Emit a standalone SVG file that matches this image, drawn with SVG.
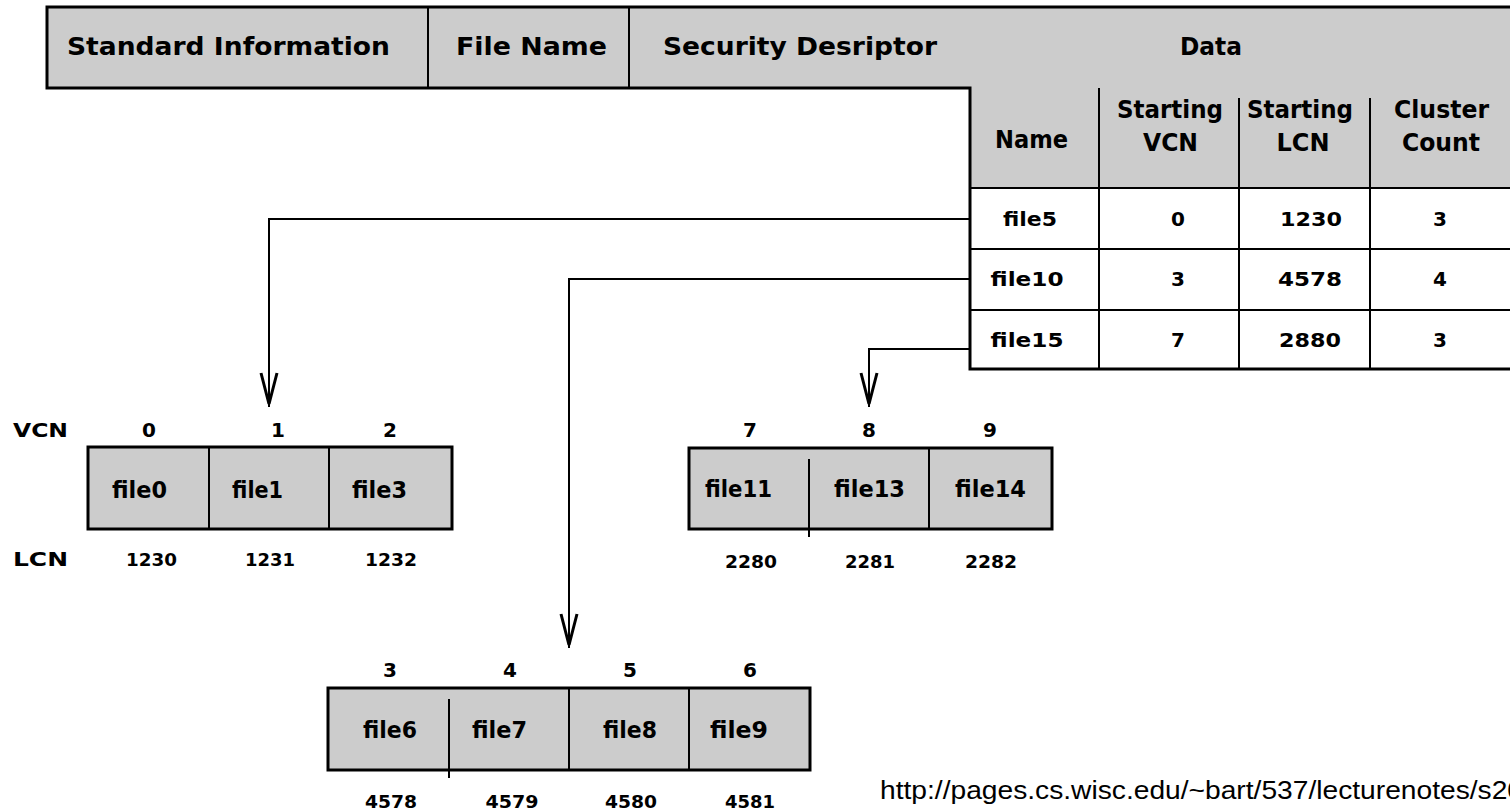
<svg xmlns="http://www.w3.org/2000/svg" width="1510" height="811" viewBox="0 0 1510 811">
<style>
.b{font-family:"DejaVu Sans","Liberation Sans",sans-serif;font-weight:bold;fill:#000;text-anchor:middle}
.h{font-size:25px}
.th{font-size:24px}
.t{font-size:20px}
.c{font-size:23px}
.n{font-size:20px}
.s{font-size:18px}
.thick{stroke:#000;stroke-width:3;fill:none}
.thin{stroke:#000;stroke-width:2;fill:none}
.grey{fill:#cccccc}
.conn{stroke:#000;stroke-width:2;fill:none;marker-end:url(#v)}
.url{font-family:"Liberation Sans",Arial,sans-serif;font-size:26px;fill:#000}
</style>
<defs>
<marker id="v" markerUnits="userSpaceOnUse" viewBox="-40 -14 46 28" markerWidth="46" markerHeight="28" refX="0" refY="0" orient="auto" overflow="visible">
<path d="M-34,-8 L-3,0 L-34,8" fill="none" stroke="#000" stroke-width="3"/>
</marker>
</defs>
<rect width="1510" height="811" fill="#fff"/>

<g id="mft-record">
<polygon class="grey" points="47,7 1512,7 1512,188 970,188 970,88 47,88"/>
<rect x="970" y="188" width="542" height="181" fill="#fff"/>
<path class="thick" d="M1512,7 H47 V88 H970 V369 H1512"/>
<line class="thin" x1="428" y1="7" x2="428" y2="88"/>
<line class="thin" x1="629" y1="7" x2="629" y2="88"/>
<text class="b h" x="228.5" y="55" textLength="323" lengthAdjust="spacingAndGlyphs">Standard Information</text>
<text class="b h" x="531.5" y="55" textLength="151" lengthAdjust="spacingAndGlyphs">File Name</text>
<text class="b h" x="800" y="55" textLength="274" lengthAdjust="spacingAndGlyphs">Security Desriptor</text>
<text class="b h" x="1211" y="55" textLength="62" lengthAdjust="spacingAndGlyphs">Data</text>
</g>

<g id="data-runs-table">
<line class="thin" x1="970" y1="188" x2="1512" y2="188"/>
<line class="thin" x1="970" y1="249" x2="1512" y2="249"/>
<line class="thin" x1="970" y1="310" x2="1512" y2="310"/>
<line class="thin" x1="1099" y1="88" x2="1099" y2="369"/>
<line class="thin" x1="1239" y1="98" x2="1239" y2="369"/>
<line class="thin" x1="1370" y1="98" x2="1370" y2="369"/>
<text class="b th" x="1031.5" y="148" textLength="73" lengthAdjust="spacingAndGlyphs">Name</text>
<text class="b th" x="1170" y="118" textLength="106" lengthAdjust="spacingAndGlyphs">Starting</text>
<text class="b th" x="1170.5" y="151" textLength="55" lengthAdjust="spacingAndGlyphs">VCN</text>
<text class="b th" x="1300" y="118" textLength="106" lengthAdjust="spacingAndGlyphs">Starting</text>
<text class="b th" x="1303" y="151">LCN</text>
<text class="b th" x="1441.5" y="118" textLength="95" lengthAdjust="spacingAndGlyphs">Cluster</text>
<text class="b th" x="1441" y="151" textLength="78" lengthAdjust="spacingAndGlyphs">Count</text>
<text class="b t" x="1030" y="226" textLength="54" lengthAdjust="spacingAndGlyphs">file5</text>
<text class="b t" x="1178" y="226">0</text>
<text class="b t" x="1311" y="226" textLength="62" lengthAdjust="spacingAndGlyphs">1230</text>
<text class="b t" x="1440" y="226">3</text>
<text class="b t" x="1027" y="286" textLength="73" lengthAdjust="spacingAndGlyphs">file10</text>
<text class="b t" x="1178" y="286">3</text>
<text class="b t" x="1310" y="286" textLength="64" lengthAdjust="spacingAndGlyphs">4578</text>
<text class="b t" x="1440" y="286">4</text>
<text class="b t" x="1027" y="347" textLength="73" lengthAdjust="spacingAndGlyphs">file15</text>
<text class="b t" x="1178" y="347">7</text>
<text class="b t" x="1310" y="347" textLength="62" lengthAdjust="spacingAndGlyphs">2880</text>
<text class="b t" x="1440" y="347">3</text>
</g>

<g id="axis-labels">
<text class="b n" x="40.5" y="437" textLength="55" lengthAdjust="spacingAndGlyphs">VCN</text>
<text class="b n" x="40.5" y="566" textLength="55" lengthAdjust="spacingAndGlyphs">LCN</text>
</g>

<g id="run-0-2">
<rect class="grey" x="88" y="447" width="364" height="82"/>
<rect class="thick" x="88" y="447" width="364" height="82"/>
<line class="thin" x1="209" y1="447" x2="209" y2="529"/>
<line class="thin" x1="329" y1="447" x2="329" y2="529"/>
<text class="b n" x="149" y="437">0</text>
<text class="b n" x="278" y="437">1</text>
<text class="b n" x="390" y="437">2</text>
<text class="b c" x="139.5" y="498" textLength="55" lengthAdjust="spacingAndGlyphs">file0</text>
<text class="b c" x="257.5" y="498" textLength="51" lengthAdjust="spacingAndGlyphs">file1</text>
<text class="b c" x="379.5" y="498" textLength="55" lengthAdjust="spacingAndGlyphs">file3</text>
<text class="b s" x="151.5" y="566" textLength="51" lengthAdjust="spacingAndGlyphs">1230</text>
<text class="b s" x="270" y="566" textLength="50" lengthAdjust="spacingAndGlyphs">1231</text>
<text class="b s" x="391" y="566" textLength="52" lengthAdjust="spacingAndGlyphs">1232</text>
</g>

<g id="run-7-9">
<rect class="grey" x="689" y="448" width="363" height="81"/>
<rect class="thick" x="689" y="448" width="363" height="81"/>
<line class="thin" x1="809" y1="459" x2="809" y2="537"/>
<line class="thin" x1="929" y1="448" x2="929" y2="529"/>
<text class="b n" x="750" y="437">7</text>
<text class="b n" x="869" y="437">8</text>
<text class="b n" x="990" y="437">9</text>
<text class="b c" x="738.5" y="497" textLength="67" lengthAdjust="spacingAndGlyphs">file11</text>
<text class="b c" x="869.5" y="497" textLength="71" lengthAdjust="spacingAndGlyphs">file13</text>
<text class="b c" x="990.5" y="497" textLength="71" lengthAdjust="spacingAndGlyphs">file14</text>
<text class="b s" x="751" y="568" textLength="52" lengthAdjust="spacingAndGlyphs">2280</text>
<text class="b s" x="870" y="568" textLength="50" lengthAdjust="spacingAndGlyphs">2281</text>
<text class="b s" x="991" y="568" textLength="52" lengthAdjust="spacingAndGlyphs">2282</text>
</g>

<g id="run-3-6">
<rect class="grey" x="328" y="688" width="482" height="82"/>
<rect class="thick" x="328" y="688" width="482" height="82"/>
<line class="thin" x1="449" y1="699" x2="449" y2="778"/>
<line class="thin" x1="569" y1="688" x2="569" y2="770"/>
<line class="thin" x1="689" y1="688" x2="689" y2="770"/>
<text class="b n" x="390" y="677">3</text>
<text class="b n" x="510" y="677">4</text>
<text class="b n" x="630" y="677">5</text>
<text class="b n" x="750" y="677">6</text>
<text class="b c" x="390" y="738" textLength="54" lengthAdjust="spacingAndGlyphs">file6</text>
<text class="b c" x="499.5" y="738" textLength="55" lengthAdjust="spacingAndGlyphs">file7</text>
<text class="b c" x="630" y="738" textLength="54" lengthAdjust="spacingAndGlyphs">file8</text>
<text class="b c" x="739" y="738" textLength="58" lengthAdjust="spacingAndGlyphs">file9</text>
<text class="b s" x="391" y="808" textLength="52" lengthAdjust="spacingAndGlyphs">4578</text>
<text class="b s" x="512" y="808" textLength="53" lengthAdjust="spacingAndGlyphs">4579</text>
<text class="b s" x="631" y="808" textLength="52" lengthAdjust="spacingAndGlyphs">4580</text>
<text class="b s" x="750" y="808" textLength="50" lengthAdjust="spacingAndGlyphs">4581</text>
</g>

<g id="connectors">
<path class="conn" d="M970,219 H269 V407"/>
<path class="conn" d="M970,279 H569 V648"/>
<path class="conn" d="M970,349 H869 V407"/>
</g>

<g id="source-url">
<text class="url" x="880" y="799" textLength="643" lengthAdjust="spacingAndGlyphs">http://pages.cs.wisc.edu/~bart/537/lecturenotes/s20</text>
</g>
</svg>
